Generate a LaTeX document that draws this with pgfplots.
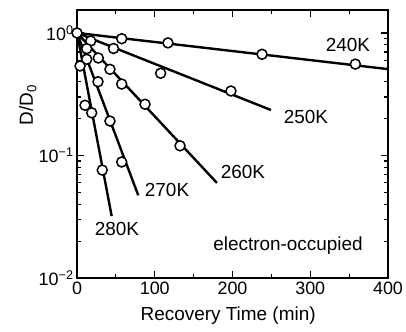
\documentclass[border=0pt]{standalone}
\usepackage{pgfplots}
\pgfplotsset{compat=1.18}
\usepackage{fontspec}
\setmainfont{Liberation Sans}
\pgfplotsset{
  fitline/.style={black, line width=2.4bp, no marks},
  datapts/.style={only marks, mark=*, mark size=5bp, mark options={fill=white, draw=black, line width=1.5bp, solid}},
}
\begin{document}
\begin{tikzpicture}
\useasboundingbox (0,0) rectangle (406bp,332bp);
\begin{axis}[
  at={(77bp,54bp)}, anchor=south west,
  scale only axis, width=311bp, height=268bp,
  xmin=0, xmax=400, ymode=log, ymin=0.01, ymax=1.54,
  xtick={0,100,200,300,400}, minor xtick={50,150,250,350},
  ytick={0.01,0.1,1},
  yticklabels={10\textsuperscript{−2},10\textsuperscript{−1},10\textsuperscript{0}},
  minor ytick={0.02,0.03,0.04,0.05,0.06,0.07,0.08,0.09,0.2,0.3,0.4,0.5,0.6,0.7,0.8,0.9},
  tick align=inside, major tick length=7bp, minor tick length=4bp,
  every tick/.style={black, line width=1.2bp},
  axis line style={line width=1.8bp},
  /pgf/number format/assume math mode=true,
  ticklabel style={font=\fontsize{18}{20}\selectfont},
  xlabel={Recovery Time (min)}, ylabel={D/D\textsubscript{0}},
  label style={font=\fontsize{19}{22}\selectfont},
  xlabel style={at={(axis description cs:0.486,-0.142)}, anchor=center},
  ylabel style={at={(axis description cs:-0.158,0.645)}, anchor=center},
  clip=false,
]
% fitted lines
\addplot[fitline] coordinates {(0,1) (400,0.507)};
\addplot[fitline] coordinates {(0,1) (249.5,0.235)};
\addplot[fitline] coordinates {(0,1) (180,0.0597)};
\addplot[fitline] coordinates {(0,1) (78.8,0.0473)};
\addplot[fitline] coordinates {(0,1) (44.6,0.032)};
% data points
\addplot[datapts] coordinates {(57.5,0.898) (117,0.83) (238,0.67) (358,0.557)};
\addplot[datapts] coordinates {(17.6,0.86) (47,0.747) (107.6,0.469) (198,0.336)};
\addplot[datapts] coordinates {(12.5,0.745) (27.4,0.625) (42.4,0.505) (57.5,0.383) (87.5,0.262) (132.5,0.12)};
\addplot[datapts] coordinates {(12.5,0.61) (27,0.40) (42.4,0.191) (57.5,0.0885)};
\addplot[datapts] coordinates {(3.9,0.538) (10.3,0.257) (18.9,0.223) (32.5,0.076)};
\addplot[datapts] coordinates {(0,1)};
% labels
\node[font=\fontsize{19}{22}\selectfont] at (axis cs:348.5,0.798) {240K};
\node[font=\fontsize{19}{22}\selectfont] at (axis cs:294.5,0.206) {250K};
\node[font=\fontsize{19}{22}\selectfont] at (axis cs:213.5,0.0733) {260K};
\node[font=\fontsize{19}{22}\selectfont] at (axis cs:115.8,0.0523) {270K};
\node[font=\fontsize{19}{22}\selectfont] at (axis cs:51.4,0.0251) {280K};
\node[font=\fontsize{19}{22}\selectfont] at (axis cs:271.4,0.01824) {electron-occupied};
\end{axis}
\end{tikzpicture}
\end{document}
